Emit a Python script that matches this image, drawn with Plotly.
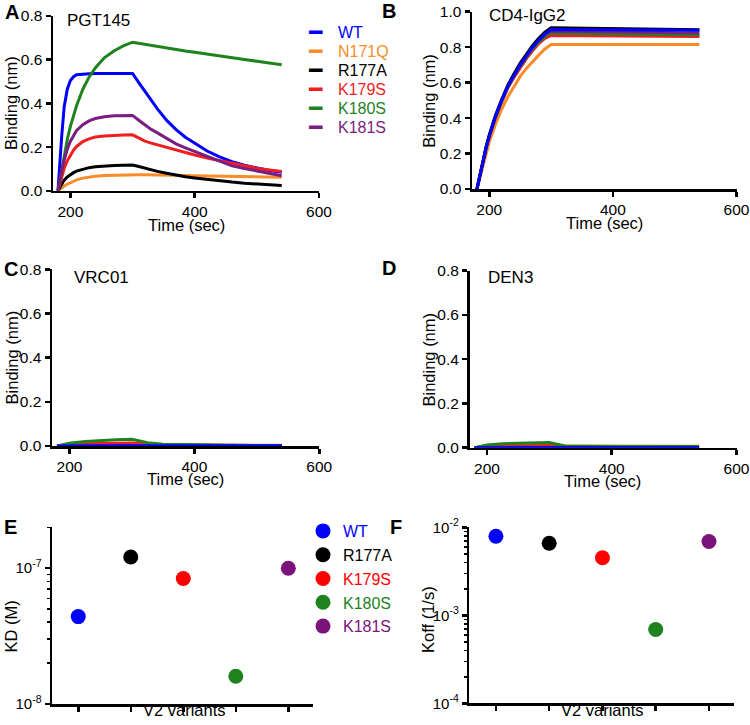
import plotly.graph_objects as go
import math

# ---------------- data ----------------
variants = ["WT", "N171Q", "R177A", "K179S", "K180S", "K181S"]
colors = {"WT": "#0000FF", "N171Q": "#F98C28", "R177A": "#000000",
          "K179S": "#F01E1E", "K180S": "#1E821E", "K181S": "#7A1E82"}

# Panel A: PGT145 sensorgrams
t_a = [180, 183, 186, 190, 195, 200, 205, 210, 220, 230, 240, 255, 270, 285, 300,
       310, 320, 330, 340, 355, 370, 385, 400, 420, 440, 460, 480, 500, 520, 540]
a_wt = [0, 0.14, 0.25, 0.385, 0.465, 0.505, 0.522, 0.531, 0.535, 0.536, 0.537, 0.537, 0.537, 0.537, 0.537,
        0.495, 0.455, 0.412, 0.375, 0.322, 0.280, 0.245, 0.217, 0.182, 0.155, 0.133, 0.117, 0.104, 0.093, 0.085]
a_n171q = [0, 0.008, 0.015, 0.022, 0.030, 0.037, 0.044, 0.050, 0.058, 0.063, 0.067, 0.070, 0.072, 0.073, 0.074,
           0.074, 0.073, 0.073, 0.072, 0.072, 0.071, 0.070, 0.069, 0.068, 0.067, 0.066, 0.065, 0.064, 0.063, 0.062]
a_r177a = [0, 0.016, 0.032, 0.049, 0.063, 0.074, 0.083, 0.090, 0.099, 0.106, 0.110, 0.114, 0.116, 0.117, 0.118,
           0.111, 0.103, 0.095, 0.089, 0.080, 0.071, 0.064, 0.059, 0.052, 0.046, 0.040, 0.035, 0.031, 0.027, 0.024]
a_k179s = [0, 0.035, 0.068, 0.104, 0.137, 0.165, 0.186, 0.203, 0.225, 0.238, 0.246, 0.251, 0.254, 0.255, 0.256,
           0.240, 0.227, 0.218, 0.210, 0.198, 0.186, 0.175, 0.164, 0.150, 0.138, 0.124, 0.113, 0.103, 0.095, 0.088]
a_k180s = [0, 0.05, 0.10, 0.165, 0.235, 0.295, 0.345, 0.390, 0.465, 0.520, 0.562, 0.610, 0.640, 0.663, 0.680,
           0.675, 0.670, 0.666, 0.661, 0.654, 0.647, 0.640, 0.634, 0.625, 0.617, 0.609, 0.601, 0.593, 0.585, 0.577]
a_k181s = [0, 0.05, 0.095, 0.14, 0.19, 0.227, 0.255, 0.276, 0.303, 0.320, 0.331, 0.339, 0.343, 0.344, 0.345,
           0.323, 0.300, 0.281, 0.265, 0.240, 0.215, 0.196, 0.179, 0.156, 0.137, 0.114, 0.102, 0.090, 0.079, 0.069]

# Panel B: CD4-IgG2 sensorgrams
t_b = [180, 185, 190, 195, 200, 210, 220, 230, 240, 250, 260, 270, 280, 290, 300, 350, 400, 450, 500, 540]
b_wt = [0, 0.08, 0.16, 0.235, 0.30, 0.41, 0.50, 0.58, 0.64, 0.70, 0.75, 0.80, 0.84, 0.875, 0.90,
        0.899, 0.898, 0.897, 0.896, 0.895]
b_n171q = [0, 0.07, 0.14, 0.205, 0.265, 0.365, 0.45, 0.52, 0.58, 0.635, 0.68, 0.72, 0.755, 0.79, 0.815,
           0.815, 0.815, 0.815, 0.815, 0.815]
b_r177a = [0, 0.085, 0.165, 0.24, 0.305, 0.415, 0.505, 0.585, 0.65, 0.71, 0.76, 0.81, 0.85, 0.885, 0.91,
           0.907, 0.905, 0.903, 0.90, 0.898]
b_k179s = [0, 0.08, 0.157, 0.23, 0.295, 0.40, 0.49, 0.57, 0.63, 0.685, 0.735, 0.78, 0.82, 0.85, 0.866,
           0.865, 0.863, 0.862, 0.861, 0.86]
b_k180s = [0, 0.082, 0.16, 0.235, 0.30, 0.405, 0.495, 0.575, 0.64, 0.695, 0.745, 0.79, 0.83, 0.86, 0.88,
           0.877, 0.875, 0.873, 0.871, 0.87]
b_k181s = [0, 0.083, 0.162, 0.237, 0.302, 0.41, 0.50, 0.58, 0.645, 0.70, 0.75, 0.80, 0.84, 0.87, 0.89,
           0.888, 0.886, 0.884, 0.882, 0.88]

# Panel C: VRC01 sensorgrams
t_c = [180, 200, 225, 250, 275, 300, 325, 350, 400, 450, 500, 540]
c_wt = [0, 0.001, 0.001, 0.001, 0.001, 0.001, 0.001, 0.001, 0.001, 0.001, 0.001, 0.001]
c_n171q = [0, 0.003, 0.005, 0.006, 0.006, 0.006, 0.005, 0.004, 0.003, 0.003, 0.003, 0.003]
c_r177a = [0, 0.003, 0.004, 0.005, 0.005, 0.005, 0.004, 0.003, 0.002, 0.002, 0.002, 0.002]
c_k179s = [0, 0.006, 0.010, 0.012, 0.013, 0.014, 0.008, 0.005, 0.003, 0.002, 0.002, 0.002]
c_k180s = [0, 0.012, 0.020, 0.025, 0.028, 0.030, 0.015, 0.008, 0.004, 0.003, 0.002, 0.002]
c_k181s = [0, 0.004, 0.007, 0.008, 0.009, 0.009, 0.006, 0.004, 0.003, 0.002, 0.002, 0.002]

# Panel D: DEN3 sensorgrams
t_d = [180, 200, 225, 250, 275, 300, 325, 350, 400, 450, 500, 540]
d_wt = [0, 0.001, 0.001, 0.001, 0.001, 0.001, 0.001, 0.001, 0.001, 0.001, 0.001, 0.001]
d_n171q = [0, 0.005, 0.007, 0.008, 0.008, 0.009, 0.008, 0.008, 0.007, 0.007, 0.007, 0.007]
d_r177a = [0, 0.003, 0.004, 0.004, 0.004, 0.004, 0.003, 0.003, 0.003, 0.003, 0.003, 0.003]
d_k179s = [0, 0.006, 0.008, 0.009, 0.009, 0.010, 0.007, 0.006, 0.005, 0.005, 0.005, 0.005]
d_k180s = [0, 0.012, 0.018, 0.020, 0.022, 0.023, 0.008, 0.006, 0.005, 0.005, 0.005, 0.005]
d_k181s = [0, 0.004, 0.006, 0.006, 0.007, 0.007, 0.005, 0.004, 0.004, 0.004, 0.004, 0.004]

# Panels E/F: kinetics
kin_variants = ["WT", "R177A", "K179S", "K180S", "K181S"]
kin_pos = [1, 2, 3, 4, 5]
kd_values = [4.4e-8, 1.21e-7, 8.4e-8, 1.6e-8, 1.0e-7]
koff_values = [7.9e-3, 6.6e-3, 4.5e-3, 6.9e-4, 6.9e-3]
kin_colors = ["#0000FF", "#000000", "#FF0000", "#1E821E", "#7A147A"]

# log-axis tick labels
kd_exponents = [-8, -7]
koff_exponents = [-4, -3, -2]

# ---------------- figure ----------------
FONT = "Liberation Sans, Arial, Helvetica, sans-serif"
W, H = 750, 725

def xd(a, b):
    return [a / W, b / W]

def yd(top, bottom):
    return [1 - bottom / H, 1 - top / H]

fig = go.Figure()

def add_lines(t, series, order, xa, ya):
    for name in order:
        fig.add_trace(go.Scatter(
            x=t, y=series[name], mode="lines", xaxis=xa, yaxis=ya,
            line=dict(color=colors[name], width=3), name=name,
            showlegend=False, hoverinfo="skip"))

A = dict(zip(variants, [a_wt, a_n171q, a_r177a, a_k179s, a_k180s, a_k181s]))
B = dict(zip(variants, [b_wt, b_n171q, b_r177a, b_k179s, b_k180s, b_k181s]))
C = dict(zip(variants, [c_wt, c_n171q, c_r177a, c_k179s, c_k180s, c_k181s]))
D = dict(zip(variants, [d_wt, d_n171q, d_r177a, d_k179s, d_k180s, d_k181s]))

add_lines(t_a, A, variants, "x", "y")
add_lines(t_b, B, ["N171Q", "K179S", "K180S", "K181S", "R177A", "WT"], "x2", "y2")
add_lines(t_c, C, ["R177A", "N171Q", "K181S", "K179S", "K180S", "WT"], "x3", "y3")
add_lines(t_d, D, ["R177A", "N171Q", "K181S", "K179S", "K180S", "WT"], "x4", "y4")

for i, (nm, c) in enumerate(zip(kin_variants, kin_colors)):
    fig.add_trace(go.Scatter(
        x=[kin_pos[i]], y=[kd_values[i]], mode="markers", xaxis="x5", yaxis="y5",
        marker=dict(color=c, size=15, line=dict(width=0)),
        name=f"<span style='color:{c}'>{nm}</span>", legend="legend2",
        legendgroup="k" + nm, showlegend=True, hoverinfo="skip"))
    fig.add_trace(go.Scatter(
        x=[kin_pos[i]], y=[koff_values[i]], mode="markers", xaxis="x6", yaxis="y6",
        marker=dict(color=c, size=15, line=dict(width=0)),
        showlegend=False, hoverinfo="skip"))

axis_common = dict(showline=True, linewidth=2.5, linecolor="black", ticks="outside",
                   tickwidth=2.5, ticklen=5, tickcolor="black", showgrid=False,
                   zeroline=False, mirror=False, automargin=False, ticklabeloverflow="allow",
                   tickfont=dict(family=FONT, size=15.5, color="black"))

def time_x(domain, anchor):
    return dict(axis_common, domain=domain, anchor=anchor, range=[172, 600],
                tickmode="array", tickvals=[200, 400, 600])

def bind_y(domain, anchor, top):
    return dict(axis_common, domain=domain, anchor=anchor, range=[0, top], dtick=0.2, tick0=0,
                tickformat=".1f")

def cat_x(domain, anchor):
    return dict(axis_common, domain=domain, anchor=anchor, range=[0.5, 5.47],
                tickmode="array", tickvals=kin_pos, showticklabels=False)

def log_y(domain, anchor, exps, top_exp):
    majors = [10.0 ** e for e in exps]
    minors = [k * 10.0 ** e for e in exps for k in range(2, 10) if math.log10(k) + e <= top_exp + 1e-9]
    return dict(axis_common, domain=domain, anchor=anchor, type="log",
                range=[exps[0], top_exp], tickmode="array", tickvals=majors,
                ticktext=[f"10<sup>{e}</sup>" for e in exps],
                tickfont=dict(family=FONT, size=15, color="black"),
                minor=dict(tickmode="array", tickvals=minors, ticks="outside", ticklen=3,
                           tickwidth=1.5, tickcolor="black", showgrid=False))

fig.update_layout(
    width=W, height=H, autosize=False, template="none",
    paper_bgcolor="white", plot_bgcolor="white",
    margin=dict(l=0, r=0, t=0, b=0),
    font=dict(family=FONT, size=16, color="black"),
    xaxis=time_x(xd(53, 319), "y"), yaxis=bind_y(yd(16, 190.8), "x", 0.8),
    xaxis2=time_x(xd(472, 736.5), "y2"), yaxis2=bind_y(yd(11.7, 189), "x2", 1.0),
    xaxis3=time_x(xd(52, 319.3), "y3"), yaxis3=bind_y(yd(269.3, 446), "x3", 0.8),
    xaxis4=time_x(xd(469.5, 736.5), "y4"), yaxis4=bind_y(yd(270.7, 447.7), "x4", 0.8),
    xaxis5=cat_x(xd(52, 313), "y5"),
    yaxis5=log_y(yd(527.3, 704), "x5", kd_exponents, math.log10(2e-7)),
    xaxis6=cat_x(xd(469.3, 734), "y6"),
    yaxis6=log_y(yd(527.3, 703.3), "x6", koff_exponents, -2),
    legend2=dict(x=303 / W, y=1 - 514 / H, xanchor="left", yanchor="top",
                 font=dict(family=FONT, size=16), bgcolor="rgba(0,0,0,0)",
                 itemwidth=30, tracegroupgap=0, traceorder="normal"),
    showlegend=True,
)

def ann(text, x, y, size=17, color="black", xanchor="left", angle=0, family=FONT, height=None):
    kw = dict(text=text, x=x / W, y=1 - y / H, textangle=angle,
              xref="paper", yref="paper", xanchor=xanchor, yanchor="middle",
              showarrow=False, font=dict(family=family, size=size, color=color))
    if height is not None:
        kw["height"] = height
    fig.add_annotation(**kw)

# panel letters
for letter, lx, ly in [("A", 3, 12), ("B", 380, 11), ("C", 2, 269), ("D", 380, 268),
                       ("E", 2, 527), ("F", 388, 527)]:
    ann(f"<b>{letter}</b>", lx, ly, size=20)

# antibody names
for label, lx, ly in [("PGT145", 65, 21), ("CD4-IgG2", 487, 16), ("VRC01", 72, 277), ("DEN3", 486, 277)]:
    ann(label, lx, ly, size=17)

# axis titles
for cx, cy in [(186, 225), (604, 223), (185.6, 479), (602.8, 481)]:
    ann("Time (sec)", cx, cy, size=16.5, xanchor="center", height=18)
for cx, cy in [(11.5, 103.4), (429.3, 100.4), (11.7, 357.7), (429.3, 359.2)]:
    ann("Binding (nm)", cx, cy, size=16.5, xanchor="center", angle=-90)
ann("V2 variants", 184, 709.5, size=16.5, xanchor="center", height=18)
ann("V2 variants", 602, 709.5, size=16.5, xanchor="center", height=18)
ann("KD (M)", 10.5, 627, size=16.5, xanchor="center", angle=-90)
ann("Koff (1/s)", 428, 620, size=16.5, xanchor="center", angle=-90)

# legend for panel A (key line + coloured label)
for i, name in enumerate(variants):
    ry = 32.5 + 19 * i
    ann("━", 315, ry, size=22, color=colors[name], xanchor="center", family="DejaVu Sans", height=17)
    ann(name, 336, ry, size=16, color=colors[name], height=17)

fig.write_html("out.html", config={"displayModeBar": False, "staticPlot": True},
               post_script="document.body.style.margin='0px';document.body.style.overflow='hidden';")
